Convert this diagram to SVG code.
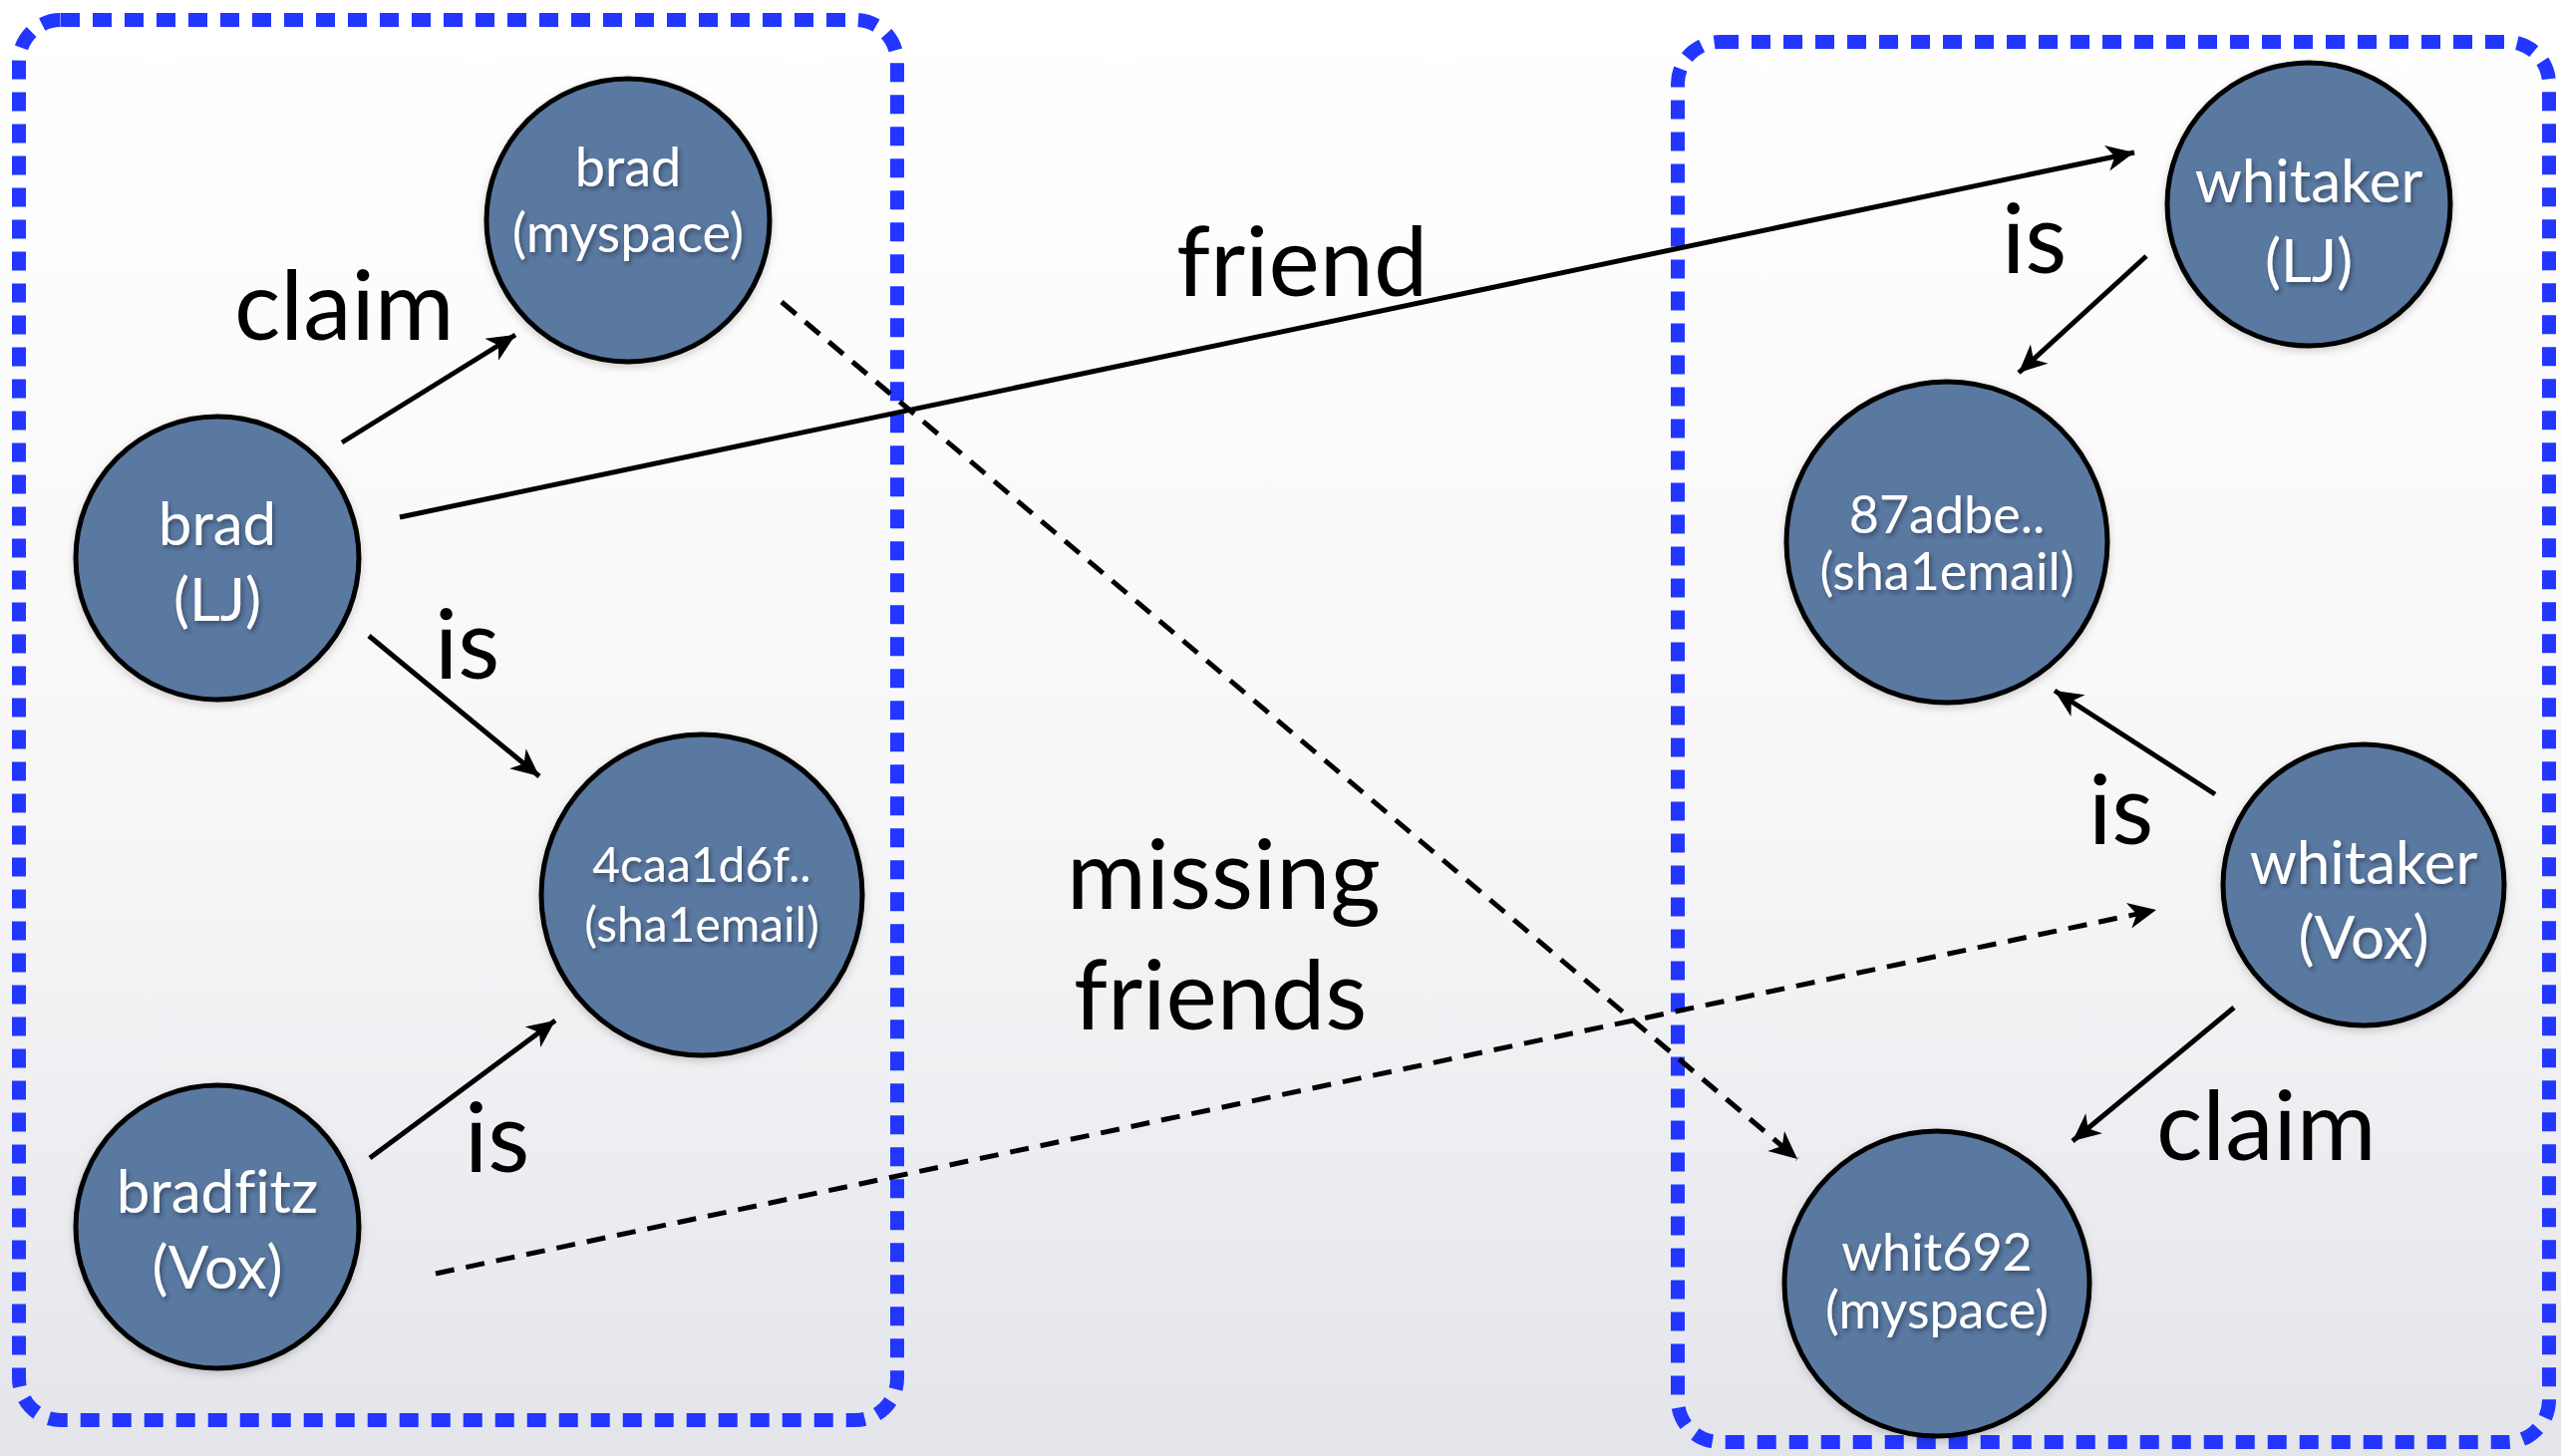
<svg xmlns="http://www.w3.org/2000/svg" width="2569" height="1461" viewBox="0 0 2569 1461">
  <defs>
    <linearGradient id="bg" x1="0" y1="0" x2="0" y2="1">
      <stop offset="0" stop-color="#ffffff"/>
      <stop offset="0.55" stop-color="#f7f7f8"/>
      <stop offset="1" stop-color="#e4e5eb"/>
    </linearGradient>
    <filter id="tshadow" x="-20%" y="-40%" width="140%" height="180%">
      <feDropShadow dx="2" dy="3" stdDeviation="2" flood-color="#1a2a40" flood-opacity="0.55"/>
    </filter>
    <filter id="cshadow" x="-20%" y="-20%" width="140%" height="140%">
      <feDropShadow dx="0" dy="3" stdDeviation="4" flood-color="#000" flood-opacity="0.18"/>
    </filter>
    <marker id="arrow" viewBox="-30 -15 34 30" refX="0" refY="0" markerWidth="34" markerHeight="30" markerUnits="userSpaceOnUse" orient="auto">
      <path d="M0,0 L-28,-13 L-20,0 L-28,13 Z" fill="#000"/>
    </marker>
    <style>
      .box { fill: none; stroke: #2236ff; stroke-width: 14; stroke-dasharray: 19 13; }
      .node circle { fill: #5a79a1; stroke: #000; stroke-width: 5; filter: url(#cshadow); }
      .node text { fill: #ffffff; font-family: Lato, "Open Sans", sans-serif; text-anchor: middle; font-variant-ligatures: none; filter: url(#tshadow); }
      .edge { fill: none; stroke: #000; stroke-width: 5; marker-end: url(#arrow); }
      .dashed { stroke-dasharray: 19 12; }
      .label { fill: #000; font-family: Lato, "Open Sans", sans-serif; font-size: 97px; font-variant-ligatures: none; }
    </style>
  </defs>

  <rect x="0" y="0" width="2569" height="1461" fill="url(#bg)"/>

  <g id="groups">
    <rect id="group-left" class="box" x="19" y="20" width="881" height="1405" rx="42" ry="42"/>
    <rect id="group-right" class="box" x="1683" y="42" width="874" height="1405" rx="42" ry="42"/>
  </g>

  <g id="connectors">
    <line class="edge" x1="343" y1="444" x2="517" y2="336"/>
    <line class="edge" x1="401" y1="519" x2="2141" y2="153"/>
    <line class="edge" x1="370" y1="638" x2="541" y2="779"/>
    <line class="edge" x1="371" y1="1162" x2="557" y2="1024"/>
    <line class="edge dashed" x1="784" y1="303" x2="1803" y2="1163"/>
    <line class="edge dashed" x1="437" y1="1278" x2="2163" y2="913"/>
    <line class="edge" x1="2153" y1="257" x2="2025" y2="374"/>
    <line class="edge" x1="2222" y1="797" x2="2061" y2="693"/>
    <line class="edge" x1="2241" y1="1011" x2="2079" y2="1145"/>
  </g>

  <g id="labels">
    <text class="label" x="235" y="341">claim</text>
    <text class="label" x="1180" y="297">friend</text>
    <text class="label" x="436" y="681">is</text>
    <text class="label" x="466" y="1176">is</text>
    <text class="label" x="1070" y="912">missing</text>
    <text class="label" x="1077" y="1033">friends</text>
    <text class="label" x="2008" y="274">is</text>
    <text class="label" x="2095" y="847">is</text>
    <text class="label" x="2163" y="1164">claim</text>
  </g>

  <g id="node-brad-myspace" class="node">
    <circle cx="630" cy="221" r="142"/>
    <text x="630" y="187" font-size="54">brad</text>
    <text x="630" y="253" font-size="54">(myspace)</text>
  </g>
  <g id="node-brad-lj" class="node">
    <circle cx="218" cy="560" r="142"/>
    <text x="218" y="547" font-size="60">brad</text>
    <text x="218" y="623" font-size="60">(LJ)</text>
  </g>
  <g id="node-4caa" class="node">
    <circle cx="704" cy="898" r="161"/>
    <text x="704" y="885" font-size="48">4caa1d6f..</text>
    <text x="704" y="945" font-size="48">(sha1email)</text>
  </g>
  <g id="node-bradfitz-vox" class="node">
    <circle cx="218" cy="1231" r="142"/>
    <text x="218" y="1217" font-size="60">bradfitz</text>
    <text x="218" y="1293" font-size="60">(Vox)</text>
  </g>
  <g id="node-whitaker-lj" class="node">
    <circle cx="2316" cy="205" r="142"/>
    <text x="2316" y="203" font-size="60">whitaker</text>
    <text x="2316" y="283" font-size="60">(LJ)</text>
  </g>
  <g id="node-87adbe" class="node">
    <circle cx="1953" cy="544" r="161"/>
    <text x="1953" y="535" font-size="52">87adbe..</text>
    <text x="1953" y="592" font-size="52">(sha1email)</text>
  </g>
  <g id="node-whitaker-vox" class="node">
    <circle cx="2371" cy="888" r="141"/>
    <text x="2371" y="887" font-size="60">whitaker</text>
    <text x="2371" y="962" font-size="60">(Vox)</text>
  </g>
  <g id="node-whit692" class="node">
    <circle cx="1943" cy="1288" r="153"/>
    <text x="1943" y="1275" font-size="52">whit692</text>
    <text x="1943" y="1333" font-size="52">(myspace)</text>
  </g>
</svg>
